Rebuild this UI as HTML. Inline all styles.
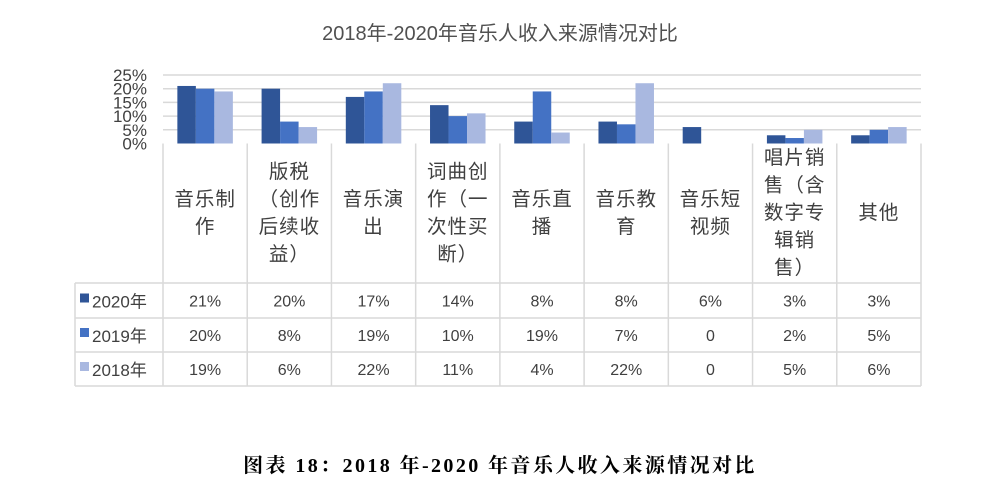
<!DOCTYPE html>
<html><head><meta charset="utf-8"><style>
html,body{margin:0;padding:0;background:#fff;width:1000px;height:502px;overflow:hidden}
svg text{font-family:"Liberation Sans","Noto Sans CJK SC",sans-serif;fill:#404040}
</style></head><body>
<svg width="1000" height="502" viewBox="0 0 1000 502">
<text x="500" y="40" text-anchor="middle" font-size="20" style="fill:#505050">2018年-2020年音乐人收入来源情况对比</text>
<g id="grid"></g><g id="bars"></g><g id="table"></g>
<text x="500" y="472" text-anchor="middle" font-size="20" font-weight="bold" letter-spacing="2.4" style="font-family:'Liberation Serif','Noto Serif CJK SC',serif;fill:#000">图表 18：2018 年-2020 年音乐人收入来源情况对比</text>
</svg>
<script>
const categories=[["音乐制","作"],["版税","（创作","后续收","益）"],["音乐演","出"],["词曲创","作（一","次性买","断）"],["音乐直","播"],["音乐教","育"],["音乐短","视频"],["唱片销","售（含","数字专","辑销","售）"],["其他"]];
const seriesNames=["2020年","2019年","2018年"];
const s2020=[21,20,17,14,8,8,6,3,3];
const s2019=[20,8,19,10,19,7,0,2,5];
const s2018=[19,6,22,11,4,22,0,5,6];
const tickLabels=["0%","5%","10%","15%","20%","25%"];
const tickValues=[0,5,10,15,20,25];
const colors=["#2f5597","#4472c4","#a9b8e0"];
const NS="http://www.w3.org/2000/svg";
const X0=163,X1=921,Y0=143.5,Y1=75,MAX=25,TL=75;
const cw=(X1-X0)/categories.length;
const y=v=>Y0-(v/MAX)*(Y0-Y1);
const x=i=>X0+i*cw;
function mk(t,a,p){const e=document.createElementNS(NS,t);for(const k in a)e.setAttribute(k,a[k]);p.appendChild(e);return e;}
const grid=document.getElementById('grid'),bars=document.getElementById('bars'),tb=document.getElementById('table');
tickValues.forEach((v,i)=>{
 if(v>0){const l=mk('line',{x1:X0,x2:X1,y1:y(v),y2:y(v),stroke:'#d9d9d9','stroke-width':1.5},grid);
 
 }
 const t=mk('text',{x:147,y:y(v)+6,'text-anchor':'end','font-size':17},grid);t.textContent=tickLabels[i];
 
 
});
const series=[s2020,s2019,s2018];
const bw=18.5;
series.forEach((s,si)=>s.forEach((v,i)=>{
 const bx=x(i)+(cw-3*bw)/2+si*bw;
 const r=mk('rect',{x:bx,y:y(v),width:bw,height:Y0-y(v),fill:colors[si]},bars);
 
 
}));
const rowY=[143.5,283,318,352,386];
const st={stroke:'#d9d9d9','stroke-width':1.5};
for(let i=0;i<=categories.length;i++){mk('line',Object.assign({x1:x(i),x2:x(i),y1:Y0,y2:386},st),tb);}
mk('line',Object.assign({x1:TL,x2:TL,y1:283,y2:386},st),tb);
rowY.slice(1).forEach(ry=>mk('line',Object.assign({x1:TL,x2:X1,y1:ry,y2:ry},st),tb));
categories.forEach((lines,i)=>{
 const lh=27.5,cy=212,start=cy-(lines.length-1)*lh/2;
 const t=mk('text',{'text-anchor':'middle','font-size':19.5,'letter-spacing':1},tb);
 
 
 lines.forEach((ln,k)=>{const sp=mk('tspan',{x:x(i)+cw/2,y:start+k*lh+7},t);sp.textContent=ln;});
});
series.forEach((s,si)=>{
 const cy=(rowY[si+1]+rowY[si+2])/2;
 const k=mk('rect',{x:80,y:cy-7,width:9,height:9,fill:colors[si]},tb);
 
 
 const n=mk('text',{x:92,y:cy+7,'font-size':17},tb);n.textContent=seriesNames[si];
 
 
 s.forEach((v,i)=>{const t=mk('text',{x:x(i)+cw/2,y:cy+6,'text-anchor':'middle','font-size':16},tb);
  t.textContent=v===0?'0':v+'%';
  
  });
});
</script>
</body></html>
